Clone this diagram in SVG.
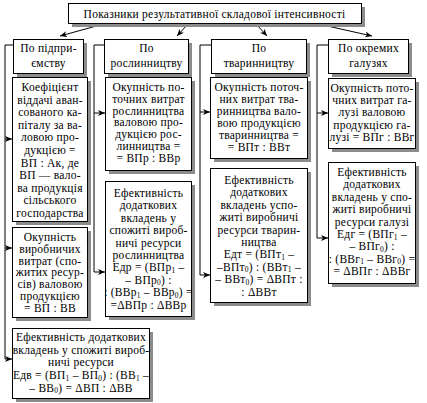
<svg xmlns="http://www.w3.org/2000/svg" width="427" height="403" viewBox="0 0 427 403">
<style>
.box{fill:#fff;stroke:#000;stroke-width:1}
.sh{fill:#8c8c8c}
.t{font-family:"Liberation Serif","Times New Roman",serif;font-size:11.5px;letter-spacing:0.25px;fill:#000;text-anchor:middle}
.c{fill:none;stroke:#000;stroke-width:1}
.s{font-size:7.5px}
</style>
<defs>
<marker id="ah" markerWidth="8" markerHeight="6" refX="7" refY="3" orient="auto" markerUnits="userSpaceOnUse">
<path d="M0,0 L7,3 L0,6 L2,3 z" fill="#000"/>
</marker>
</defs>
<rect width="427" height="403" fill="#fff"/>
<g id="connectors">
<line class="c" x1="100" y1="25" x2="60" y2="36" marker-end="url(#ah)"/>
<line class="c" x1="187" y1="25" x2="177" y2="36" marker-end="url(#ah)"/>
<line class="c" x1="257" y1="25" x2="267" y2="36" marker-end="url(#ah)"/>
<line class="c" x1="323" y1="25" x2="372" y2="36" marker-end="url(#ah)"/>
<polyline class="c" points="13,45 5,45 5,359"/>
<line class="c" x1="5" y1="139" x2="12" y2="139" marker-end="url(#ah)"/>
<line class="c" x1="5" y1="248" x2="12" y2="248" marker-end="url(#ah)"/>
<line class="c" x1="5" y1="359" x2="12" y2="359" marker-end="url(#ah)"/>
<polyline class="c" points="104,45 94,45 94,272"/>
<line class="c" x1="94" y1="113" x2="105" y2="113" marker-end="url(#ah)"/>
<line class="c" x1="94" y1="272" x2="105" y2="272" marker-end="url(#ah)"/>
<polyline class="c" points="211,45 200,45 200,275"/>
<line class="c" x1="200" y1="112" x2="210" y2="112" marker-end="url(#ah)"/>
<line class="c" x1="200" y1="275" x2="210" y2="275" marker-end="url(#ah)"/>
<polyline class="c" points="328,45 317,45 317,238"/>
<line class="c" x1="317" y1="113" x2="328" y2="113" marker-end="url(#ah)"/>
<line class="c" x1="317" y1="238" x2="328" y2="238" marker-end="url(#ah)"/>
</g>
<g id="top">
<rect class="sh" x="72" y="7" width="293" height="20"/>
<rect class="box" x="68.5" y="3.5" width="293" height="20"/>
<text class="t" x="214.5" y="17.5">Показники результативної складової інтенсивності</text>
</g>
<g id="hA">
<rect class="sh" x="17" y="43" width="70" height="34"/>
<rect class="box" x="13.5" y="39.5" width="70" height="34"/>
<text class="t" x="48.5" y="51.5">По підпри-<tspan x="48.5" dy="15">ємству</tspan></text>
</g>
<g id="hB">
<rect class="sh" x="108" y="43" width="84" height="34"/>
<rect class="box" x="104.5" y="39.5" width="84" height="34"/>
<text class="t" x="146.5" y="51.5">По<tspan x="146.5" dy="15">рослинництву</tspan></text>
</g>
<g id="hC">
<rect class="sh" x="215" y="43" width="95" height="34"/>
<rect class="box" x="211.5" y="39.5" width="95" height="34"/>
<text class="t" x="259" y="51.5">По<tspan x="259" dy="15">тваринництву</tspan></text>
</g>
<g id="hD">
<rect class="sh" x="332" y="43" width="80" height="34"/>
<rect class="box" x="328.5" y="39.5" width="80" height="34"/>
<text class="t" x="368.5" y="51.5">По окремих<tspan x="368.5" dy="15">галузях</tspan></text>
</g>
<g id="A1">
<rect class="sh" x="16" y="81" width="75" height="144"/>
<rect class="box" x="12.5" y="77.5" width="75" height="144"/>
<text class="t" x="50" y="91">Коефіцієнт<tspan x="50" dy="12.6">віддачі аван-</tspan><tspan x="50" dy="12.6">сованого ка-</tspan><tspan x="50" dy="12.6">піталу за ва-</tspan><tspan x="50" dy="12.6">ловою про-</tspan><tspan x="50" dy="12.6">дукцією =</tspan><tspan x="50" dy="12.6">ВП : Ак, де</tspan><tspan x="50" dy="12.6">ВП — вало-</tspan><tspan x="50" dy="12.6">ва продукція</tspan><tspan x="50" dy="12.6">сільського</tspan><tspan x="50" dy="12.6">господарства</tspan></text>
</g>
<g id="A2">
<rect class="sh" x="16" y="231" width="75" height="90"/>
<rect class="box" x="12.5" y="227.5" width="75" height="90"/>
<text class="t" x="50" y="241">Окупність<tspan x="50" dy="11.8">виробничих</tspan><tspan x="50" dy="11.8">витрат (спо-</tspan><tspan x="50" dy="11.8">житих ресур-</tspan><tspan x="50" dy="11.8">сів) валовою</tspan><tspan x="50" dy="11.8">продукцією</tspan><tspan x="50" dy="11.8">= ВП : ВВ</tspan></text>
</g>
<g id="A3">
<rect class="sh" x="16" y="332" width="137" height="70"/>
<rect class="box" x="12.5" y="328.5" width="137" height="70"/>
<text class="t" x="81" y="341">Ефективність додаткових<tspan x="81" dy="12.7">вкладень у спожиті вироб-</tspan><tspan x="81" dy="12.7">ничі ресурси</tspan><tspan x="81" dy="12.7">Едв = (ВП</tspan><tspan class="s" dy="1.5">1</tspan><tspan dy="-1.5"> – ВП</tspan><tspan class="s" dy="1.5">0</tspan><tspan dy="-1.5">) : (ВВ</tspan><tspan class="s" dy="1.5">1</tspan><tspan dy="-1.5"> –</tspan><tspan x="81" dy="12.7">– ВВ</tspan><tspan class="s" dy="1.5">0</tspan><tspan dy="-1.5">) = ΔВП : ΔВВ</tspan></text>
</g>
<g id="B1">
<rect class="sh" x="109" y="81" width="86" height="93"/>
<rect class="box" x="105.5" y="77.5" width="86" height="93"/>
<text class="t" x="148.5" y="91">Окупність по-<tspan x="148.5" dy="11.8">точних витрат</tspan><tspan x="148.5" dy="11.8">рослинництва</tspan><tspan x="148.5" dy="11.8">валовою про-</tspan><tspan x="148.5" dy="11.8">дукцією рос-</tspan><tspan x="148.5" dy="11.8">линництва =</tspan><tspan x="148.5" dy="11.8">= ВПр : ВВр</tspan></text>
</g>
<g id="B2">
<rect class="sh" x="109" y="185" width="86" height="135"/>
<rect class="box" x="105.5" y="181.5" width="86" height="135"/>
<text class="t" x="148.5" y="197">Ефективність<tspan x="148.5" dy="12.4">додаткових</tspan><tspan x="148.5" dy="12.4">вкладень у</tspan><tspan x="148.5" dy="12.4">спожиті вироб-</tspan><tspan x="148.5" dy="12.4">ничі ресурси</tspan><tspan x="148.5" dy="12.4">рослинництва</tspan><tspan x="148.5" dy="12.4">Едр = (ВПр</tspan><tspan class="s" dy="1.5">1</tspan><tspan dy="-1.5"> –</tspan><tspan x="148.5" dy="12.4">– ВПр</tspan><tspan class="s" dy="1.5">0</tspan><tspan dy="-1.5">) :</tspan><tspan x="148.5" dy="12.4">: (ВВр</tspan><tspan class="s" dy="1.5">1</tspan><tspan dy="-1.5"> – ВВр</tspan><tspan class="s" dy="1.5">0</tspan><tspan dy="-1.5">) =</tspan><tspan x="148.5" dy="12.4">=ΔВПр : ΔВВр</tspan></text>
</g>
<g id="C1">
<rect class="sh" x="214" y="81" width="97" height="81"/>
<rect class="box" x="210.5" y="77.5" width="97" height="81"/>
<text class="t" x="259" y="91">Окупність поточ-<tspan x="259" dy="12">них витрат тва-</tspan><tspan x="259" dy="12">ринництва вало-</tspan><tspan x="259" dy="12">вою продукцією</tspan><tspan x="259" dy="12">тваринництва =</tspan><tspan x="259" dy="12">= ВПт : ВВт</tspan></text>
</g>
<g id="C2">
<rect class="sh" x="214" y="172" width="97" height="134"/>
<rect class="box" x="210.5" y="168.5" width="97" height="134"/>
<text class="t" x="259" y="184">Ефективність<tspan x="259" dy="12.4">додаткових</tspan><tspan x="259" dy="12.4">вкладень успо-</tspan><tspan x="259" dy="12.4">житі виробничі</tspan><tspan x="259" dy="12.4">ресурси тварин-</tspan><tspan x="259" dy="12.4">ництва</tspan><tspan x="259" dy="12.4">Едт = (ВПт</tspan><tspan class="s" dy="1.5">1</tspan><tspan dy="-1.5"> –</tspan><tspan x="259" dy="12.4">–ВПт</tspan><tspan class="s" dy="1.5">0</tspan><tspan dy="-1.5">) : (ВВт</tspan><tspan class="s" dy="1.5">1</tspan><tspan dy="-1.5"> –</tspan><tspan x="259" dy="12.4">– ВВт</tspan><tspan class="s" dy="1.5">0</tspan><tspan dy="-1.5">) = ΔВПт :</tspan><tspan x="259" dy="12.4">: ΔВВт</tspan></text>
</g>
<g id="D1">
<rect class="sh" x="332" y="82" width="87" height="70"/>
<rect class="box" x="328.5" y="78.5" width="87" height="70"/>
<text class="t" x="372" y="92">Окупність пото-<tspan x="372" dy="12.2">чних витрат га-</tspan><tspan x="372" dy="12.2">лузі валовою</tspan><tspan x="372" dy="12.2">продукцією га-</tspan><tspan x="372" dy="12.2">лузі = ВПг : ВВг</tspan></text>
</g>
<g id="D2">
<rect class="sh" x="332" y="166" width="87" height="121"/>
<rect class="box" x="328.5" y="162.5" width="87" height="121"/>
<text class="t" x="372" y="176">Ефективність<tspan x="372" dy="12.4">додаткових</tspan><tspan x="372" dy="12.4">вкладень у спо-</tspan><tspan x="372" dy="12.4">житі виробничі</tspan><tspan x="372" dy="12.4">ресурси галузі</tspan><tspan x="372" dy="12.4">Едг = (ВПг</tspan><tspan class="s" dy="1.5">1</tspan><tspan dy="-1.5"> –</tspan><tspan x="372" dy="12.4">– ВПг</tspan><tspan class="s" dy="1.5">0</tspan><tspan dy="-1.5">) :</tspan><tspan x="372" dy="12.4">: (ВВг</tspan><tspan class="s" dy="1.5">1</tspan><tspan dy="-1.5"> – ВВг</tspan><tspan class="s" dy="1.5">0</tspan><tspan dy="-1.5">) =</tspan><tspan x="372" dy="12.4">= ΔВПг : ΔВВг</tspan></text>
</g>
</svg>
